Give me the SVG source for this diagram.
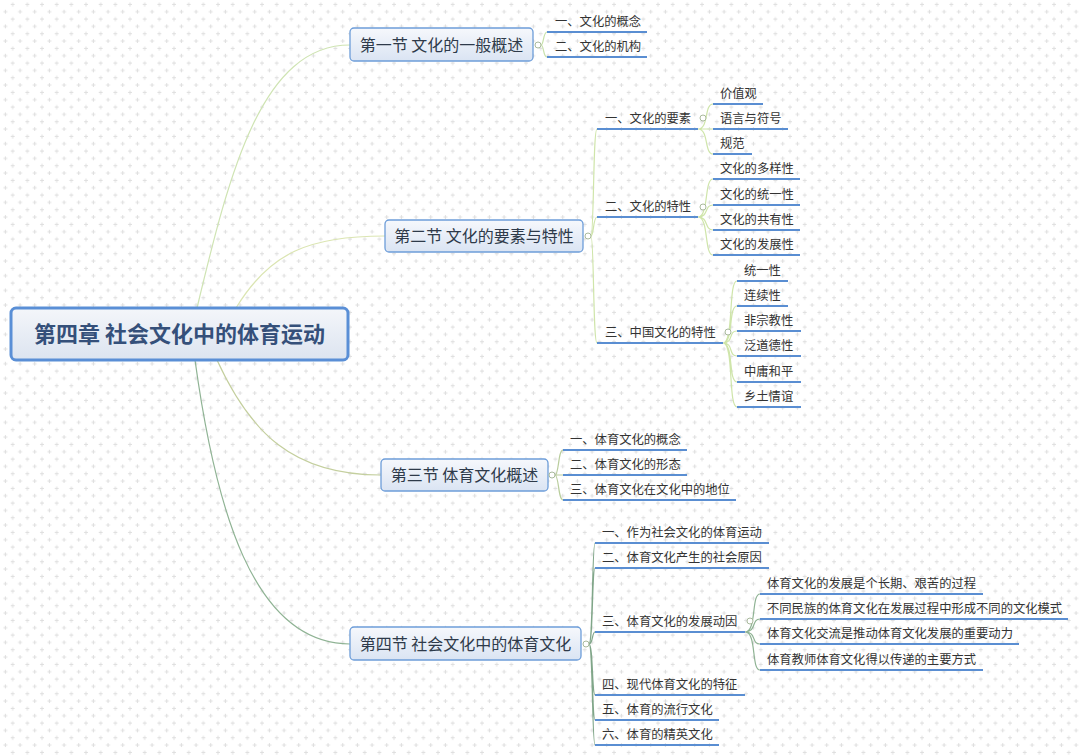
<svg xmlns="http://www.w3.org/2000/svg" width="1080" height="756" viewBox="0 0 1080 756">
<defs>
<pattern id="grid" x="0" y="0" width="14.667" height="14.667" patternUnits="userSpaceOnUse">
<path d="M10.7 4.5h4M12.7 2.5v4M3.4 11.8h4M5.4 9.8v4" stroke="#dedede" stroke-width="1" fill="none"/>
</pattern>
<linearGradient id="secFill" x1="0" y1="0" x2="0" y2="1">
<stop offset="0" stop-color="#f6f8fc"/>
<stop offset="1" stop-color="#dae4f3"/>
</linearGradient>
<linearGradient id="rootFill" x1="0" y1="0" x2="0" y2="1">
<stop offset="0" stop-color="#f4f6fa"/>
<stop offset="1" stop-color="#dce4f0"/>
</linearGradient>
</defs>
<style>
text{font-family:"Noto Sans CJK SC","Noto Sans",sans-serif;fill:#333}
.root-t{font-size:22px;font-weight:bold;fill:#35507a;text-anchor:middle}
.sec-t{font-size:16px;fill:#2e3a4a;text-anchor:middle}
.t{font-size:12.3px}
.sec{fill:url(#secFill);stroke:#6d9dd9;stroke-width:1.3}
.ul{stroke:#5a8ed2;stroke-width:2;fill:none}
.c{fill:none;stroke-width:1.2}
.knob{fill:#fff;stroke:#a9b99c;stroke-width:1}
</style>
<rect width="1080" height="756" fill="#fff"/>
<rect width="1080" height="756" fill="url(#grid)"/>

<g id="connectors">
<path class="c" stroke="#cfe4b3" d="M197 308 C230 170, 262 45, 350 45"/>
<path class="c" stroke="#dbe5b2" d="M236 308 C270 252, 310 236, 385 236"/>
<path class="c" stroke="#c4cf9e" d="M217 360 C250 432, 292 475, 381 475"/>
<path class="c" stroke="#8fb394" d="M195 360 C215 505, 252 644, 350 644"/>

<path class="c" stroke="#c7e1aa" d="M541 45 C544 45, 543 32, 547 32 M541 45 C544 45, 543 57, 547 57"/>

<path class="c" stroke="#cfe5aa" d="M591 236 C594 236, 593 129, 597 129 M591 236 C594 236, 593 217, 597 217 M591 236 C594 236, 593 343, 597 343"/>
<path class="c" stroke="#cfe5aa" d="M698 129 C709 129, 704 104, 713 104 M698 129 L713 129 M698 129 C709 129, 704 154, 713 154"/>
<path class="c" stroke="#cfe5aa" d="M698 217 C709 217, 704 179, 713 179 M698 217 C709 217, 704 205, 713 205 M698 217 C709 217, 704 230, 713 230 M698 217 C709 217, 704 255, 713 255"/>
<path class="c" stroke="#cfe5aa" d="M723 343 C734 343, 728 281, 737 281 M723 343 C734 343, 728 306, 737 306 M723 343 C734 343, 728 331, 737 331 M723 343 C734 343, 728 356, 737 356 M723 343 C734 343, 728 382, 737 382 M723 343 C734 343, 728 407, 737 407"/>

<path class="c" stroke="#b9cd9c" d="M555 475 C559 475, 558 450, 563 450 M555 475 L563 475 M555 475 C559 475, 558 500, 563 500"/>

<path class="c" stroke="#80a689" d="M589 644 C593 644, 592 543, 595 543 M589 644 C593 644, 592 568, 595 568 M589 644 C593 644, 592 632, 595 632 M589 644 C593 644, 592 695, 595 695 M589 644 C593 644, 592 720, 595 720 M589 644 C593 644, 592 745, 595 745"/>
<path class="c" stroke="#8fb394" d="M745 632 C757 632, 751 594, 760 594 M745 632 C757 632, 751 619, 760 619 M745 632 C757 632, 751 644, 760 644 M745 632 C757 632, 751 670, 760 670"/>
</g>

<g id="root">
<rect x="11" y="308" width="337" height="52" rx="5" fill="url(#rootFill)" stroke="#5a8fd6" stroke-width="3"/>
<text class="root-t" x="179.5" y="342">第四章 社会文化中的体育运动</text>
</g>

<g id="sec1">
<rect class="sec" x="350" y="28" width="183" height="33" rx="4"/>
<text class="sec-t" x="441.5" y="50.5">第一节 文化的一般概述</text>
<circle class="knob" cx="538" cy="45" r="3"/>
</g>
<g id="sec1-1"><text class="t" x="555" y="26">一、文化的概念</text><path class="ul" d="M547 32H647"/></g>
<g id="sec1-2"><text class="t" x="555" y="51">二、文化的机构</text><path class="ul" d="M547 57H647"/></g>

<g id="sec2">
<rect class="sec" x="385" y="220" width="198" height="32" rx="4"/>
<text class="sec-t" x="484" y="242">第二节 文化的要素与特性</text>
<circle class="knob" cx="588" cy="236" r="3"/>
</g>
<g id="sec2-1"><text class="t" x="605" y="123">一、文化的要素</text><path class="ul" d="M597 129H698"/><circle class="knob" cx="703" cy="118" r="3"/></g>
<g id="sec2-1-1"><text class="t" x="720" y="98">价值观</text><path class="ul" d="M713 104H763"/></g>
<g id="sec2-1-2"><text class="t" x="720" y="123">语言与符号</text><path class="ul" d="M713 129H788"/></g>
<g id="sec2-1-3"><text class="t" x="720" y="148">规范</text><path class="ul" d="M713 154H752"/></g>
<g id="sec2-2"><text class="t" x="605" y="211">二、文化的特性</text><path class="ul" d="M597 217H698"/><circle class="knob" cx="703" cy="207" r="3"/></g>
<g id="sec2-2-1"><text class="t" x="720" y="173">文化的多样性</text><path class="ul" d="M713 179H800"/></g>
<g id="sec2-2-2"><text class="t" x="720" y="199">文化的统一性</text><path class="ul" d="M713 205H800"/></g>
<g id="sec2-2-3"><text class="t" x="720" y="224">文化的共有性</text><path class="ul" d="M713 230H800"/></g>
<g id="sec2-2-4"><text class="t" x="720" y="249">文化的发展性</text><path class="ul" d="M713 255H800"/></g>
<g id="sec2-3"><text class="t" x="605" y="337">三、中国文化的特性</text><path class="ul" d="M597 343H723"/><circle class="knob" cx="728" cy="332" r="3"/></g>
<g id="sec2-3-1"><text class="t" x="744" y="275">统一性</text><path class="ul" d="M737 281H788"/></g>
<g id="sec2-3-2"><text class="t" x="744" y="300">连续性</text><path class="ul" d="M737 306H788"/></g>
<g id="sec2-3-3"><text class="t" x="744" y="325">非宗教性</text><path class="ul" d="M737 331H801"/></g>
<g id="sec2-3-4"><text class="t" x="744" y="350">泛道德性</text><path class="ul" d="M737 356H801"/></g>
<g id="sec2-3-5"><text class="t" x="744" y="376">中庸和平</text><path class="ul" d="M737 382H801"/></g>
<g id="sec2-3-6"><text class="t" x="744" y="401">乡土情谊</text><path class="ul" d="M737 407H801"/></g>

<g id="sec3">
<rect class="sec" x="381" y="459" width="167" height="32" rx="4"/>
<text class="sec-t" x="464.5" y="481">第三节 体育文化概述</text>
<circle class="knob" cx="552" cy="475" r="3"/>
</g>
<g id="sec3-1"><text class="t" x="570" y="444">一、体育文化的概念</text><path class="ul" d="M563 450H687"/></g>
<g id="sec3-2"><text class="t" x="570" y="469">二、体育文化的形态</text><path class="ul" d="M563 475H687"/></g>
<g id="sec3-3"><text class="t" x="570" y="494">三、体育文化在文化中的地位</text><path class="ul" d="M563 500H736"/></g>

<g id="sec4">
<rect class="sec" x="350" y="627" width="231" height="33" rx="4"/>
<text class="sec-t" x="465.5" y="649.5">第四节 社会文化中的体育文化</text>
<circle class="knob" cx="586" cy="644" r="3"/>
</g>
<g id="sec4-1"><text class="t" x="602" y="537">一、作为社会文化的体育运动</text><path class="ul" d="M595 543H769"/></g>
<g id="sec4-2"><text class="t" x="602" y="562">二、体育文化产生的社会原因</text><path class="ul" d="M595 568H769"/></g>
<g id="sec4-3"><text class="t" x="602" y="626">三、体育文化的发展动因</text><path class="ul" d="M595 632H745"/><circle class="knob" cx="750" cy="621" r="3"/></g>
<g id="sec4-3-1"><text class="t" x="767" y="588">体育文化的发展是个长期、艰苦的过程</text><path class="ul" d="M760 594H983"/></g>
<g id="sec4-3-2"><text class="t" x="767" y="613">不同民族的体育文化在发展过程中形成不同的文化模式</text><path class="ul" d="M760 619H1068"/></g>
<g id="sec4-3-3"><text class="t" x="767" y="638">体育文化交流是推动体育文化发展的重要动力</text><path class="ul" d="M760 644H1019"/></g>
<g id="sec4-3-4"><text class="t" x="767" y="664">体育教师体育文化得以传递的主要方式</text><path class="ul" d="M760 670H983"/></g>
<g id="sec4-4"><text class="t" x="602" y="689">四、现代体育文化的特征</text><path class="ul" d="M595 695H745"/></g>
<g id="sec4-5"><text class="t" x="602" y="714">五、体育的流行文化</text><path class="ul" d="M595 720H719"/></g>
<g id="sec4-6"><text class="t" x="602" y="739">六、体育的精英文化</text><path class="ul" d="M595 745H719"/></g>
</svg>
